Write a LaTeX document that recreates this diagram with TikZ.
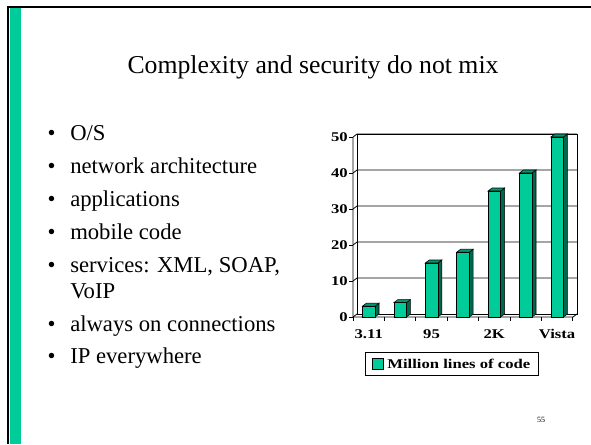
\documentclass[tikz,border=0pt]{standalone}
\usepackage{fontspec}
\setmainfont{Liberation Serif}
\usetikzlibrary{positioning}
\definecolor{SlideGreen}{RGB}{0,204,153}
\definecolor{BarSide}{RGB}{0,102,76}
\definecolor{BarTop}{RGB}{0,150,112}
\newcommand{\chartlabel}[1]{\scalebox{1.25}[1]{\bfseries #1}}

\begin{document}
\begin{tikzpicture}[
    x=0.75pt, y=-0.75pt,
    item/.style={anchor=base west, inner sep=0pt, font=\fontsize{17}{19.5}\selectfont},
    dot/.style={anchor=base, inner sep=0pt, font=\fontsize{17}{19.5}\selectfont},
    axislabel/.style={inner sep=0pt, font=\fontsize{10}{12}\selectfont},
    grid line/.style={black, line width=0.6pt},
]
\useasboundingbox (0,0) rectangle (591,444);

% slide frame
\fill[SlideGreen] (9.5,8) rectangle (21,444);
\draw[line width=1.5pt] (8,444) -- (8,6.5) -- (591,6.5);

\node[anchor=base, inner sep=0pt, font=\fontsize{19.3}{23}\selectfont] (title) at (313,73)
    {Complexity and security do not mix};

% bullet list
\node[item] (os)   at (70,140) {O/S};
\node[item] (net)  at (70,173) {network architecture};
\node[item] (apps) at (70,206) {applications};
\node[item] (mob)  at (70,239) {mobile code};
\node[item] (serv) at (70,272) {services: XML, SOAP,};
\node[item] (voip) at (70,298) {VoIP};
\node[item] (on)   at (70,331) {always on connections};
\node[item] (ip)   at (70,363) {IP everywhere};
\foreach \n in {os,net,apps,mob,serv,on,ip}
    \node[dot] at ([xshift=-18.5*0.75pt]\n.base west) {•};

% chart walls and grid
\draw[grid line] (357,134) rectangle (577,314);
\draw[grid line] (353,137) -- (353,317) -- (573,317) -- (577,314);
\draw[grid line] (353,317) -- (357,314);
\foreach \v in {10,20,...,50}
    \draw[grid line] (353,317-3.6*\v) -- (357,314-3.6*\v) -- (577,314-3.6*\v);
\foreach \v in {0,10,...,50} {
    \draw[grid line] (349,317-3.6*\v) -- (353,317-3.6*\v);
    \node[axislabel, anchor=east] (y\v) at (348,317-3.6*\v) {\chartlabel{\v}};
}
\foreach \k in {0,...,7}
    \draw[grid line] (353+31.4*\k,317) -- (353+31.4*\k,321);

% bars
\foreach \val [count=\i from 0] in {3,4,15,18,35,40,50} {
    \pgfmathsetmacro{\xl}{362.4+31.4*\i}
    \pgfmathsetmacro{\yt}{317-3.6*\val}
    \filldraw[fill=BarSide, line width=0.4pt] (\xl+12.6,317) -- (\xl+16.6,314) -- (\xl+16.6,\yt-3) -- (\xl+12.6,\yt) -- cycle;
    \filldraw[fill=BarTop, line width=0.4pt] (\xl,\yt) -- (\xl+4,\yt-3) -- (\xl+16.6,\yt-3) -- (\xl+12.6,\yt) -- cycle;
    \filldraw[fill=SlideGreen, line width=0.4pt] (\xl,317) rectangle (\xl+12.6,\yt);
}

% category labels
\node[axislabel, anchor=base] (c1) at (368.7,338) {\chartlabel{3.11}};
\node[axislabel, anchor=base] (c3) at (431.5,338) {\chartlabel{95}};
\node[axislabel, anchor=base] (c5) at (494.3,338) {\chartlabel{2K}};
\node[axislabel, anchor=base] (c7) at (557.1,338) {\chartlabel{Vista}};

% legend
\draw[line width=0.6pt] (365,352) rectangle (538,375);
\filldraw[fill=SlideGreen, line width=0.5pt] (372,358) rectangle (383,369);
\node[axislabel, anchor=west] (legend) at (387,363.5) {\chartlabel{Million lines of code}};

\node[inner sep=0pt, font=\fontsize{6}{7}\selectfont] (page) at (541,420) {55};
\end{tikzpicture}
\end{document}
